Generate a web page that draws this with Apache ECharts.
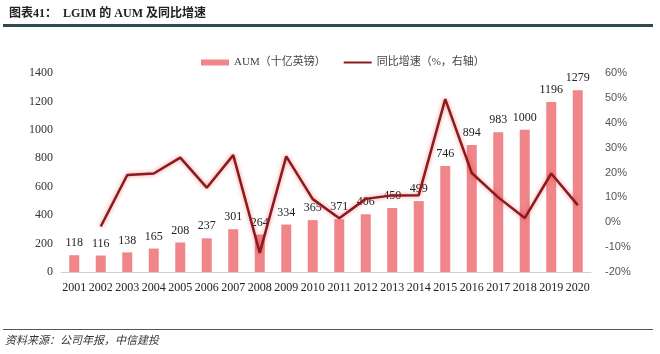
<!DOCTYPE html>
<html>
<head>
<meta charset="utf-8">
<script src="https://cdn.jsdelivr.net/npm/echarts@6/dist/echarts.min.js"></script>
<style>
  html, body { margin: 0; padding: 0; background: #fff; }
  #chart { width: 660px; height: 354px; }
</style>
</head>
<body>
<div id="chart"></div>
<script>
  var years = ['2001','2002','2003','2004','2005','2006','2007','2008','2009','2010',
               '2011','2012','2013','2014','2015','2016','2017','2018','2019','2020'];
  var aum = [118,116,138,165,208,237,301,264,334,365,371,406,450,499,746,894,983,1000,1196,1279];
  var growth = [null,-1.7,19,19.6,26,13.9,27,-12.3,26.5,9.3,1.6,9.4,10.8,10.9,49.5,19.8,10,1.7,19.6,6.9];
  var leftTicks = { min: 0, max: 1400, interval: 200 };
  var rightTicks = { min: -20, max: 60, interval: 10 };

  var myChart = echarts.init(document.getElementById('chart'));
  myChart.setOption({
    animation: false,
    title: {
      text: '图表41：  LGIM 的 AUM 及同比增速',
      left: 4,
      top: 3,
      textStyle: {
        fontSize: 12,
        fontWeight: 'bold',
        color: '#222',
        fontFamily: '"Liberation Serif", "Noto Sans CJK SC", serif'
      }
    },
    legend: {
      top: 52,
      left: 196,
      itemGap: 18,
      itemWidth: 28,
      itemHeight: 6,
      textStyle: {
        fontSize: 11,
        color: '#444',
        fontFamily: '"Liberation Serif", "Noto Sans CJK SC", serif'
      },
      data: [
        { name: 'AUM（十亿英镑）', icon: 'rect' },
        { name: '同比增速（%，右轴）', icon: 'path://M0,0 L28,0 L28,2 L0,2 Z', itemStyle: { color: '#8b1a1f' } }
      ]
    },
    grid: {
      left: 61,
      right: 69,
      top: 73,
      bottom: 82
    },
    xAxis: {
      type: 'category',
      data: years,
      axisTick: { show: false },
      axisLine: { lineStyle: { color: '#d0d0d0', width: 1 } },
      axisLabel: {
        color: '#222',
        fontSize: 12,
        margin: 10,
        interval: 0,
        fontFamily: '"Liberation Serif", serif'
      }
    },
    yAxis: [
      {
        type: 'value',
        min: leftTicks.min,
        max: leftTicks.max,
        interval: leftTicks.interval,
        splitLine: { show: false },
        axisLine: { show: false },
        axisTick: { show: false },
        axisLabel: {
          color: '#333',
          fontSize: 12,
          margin: 8,
          formatter: function (v) { return String(v); },
          fontFamily: '"Liberation Serif", serif'
        }
      },
      {
        type: 'value',
        min: rightTicks.min,
        max: rightTicks.max,
        interval: rightTicks.interval,
        splitLine: { show: false },
        axisLine: { show: false },
        axisTick: { show: false },
        axisLabel: {
          color: '#555',
          fontSize: 11,
          margin: 14,
          formatter: '{value}%',
          fontFamily: '"Liberation Sans", sans-serif'
        }
      }
    ],
    series: [
      {
        name: 'AUM（十亿英镑）',
        type: 'bar',
        data: aum,
        barWidth: 10,
        itemStyle: { color: '#f0868a' },
        label: {
          show: true,
          position: 'top',
          distance: 6,
          color: '#222',
          fontSize: 12,
          fontFamily: '"Liberation Serif", serif'
        }
      },
      {
        name: '同比增速（%，右轴）',
        type: 'line',
        yAxisIndex: 1,
        data: growth,
        symbol: 'none',
        connectNulls: false,
        lineStyle: {
          color: '#8b1a1f',
          width: 2.5,
          shadowColor: 'rgba(230,40,40,0.55)',
          shadowBlur: 4
        },
        itemStyle: { color: '#8b1a1f' }
      }
    ],
    graphic: [
      {
        type: 'rect',
        shape: { x: 3, y: 24, width: 650, height: 3 },
        style: { fill: '#2e4a4e' }
      },
      {
        type: 'rect',
        shape: { x: 3, y: 329, width: 650, height: 1 },
        style: { fill: '#555' }
      },
      {
        type: 'text',
        left: 5,
        top: 334,
        style: {
          text: '资料来源：公司年报，中信建投',
          fontSize: 11,
          fontStyle: 'italic',
          fill: '#333',
          fontFamily: '"Noto Sans CJK SC", sans-serif'
        }
      }
    ]
  });
</script>
</body>
</html>
